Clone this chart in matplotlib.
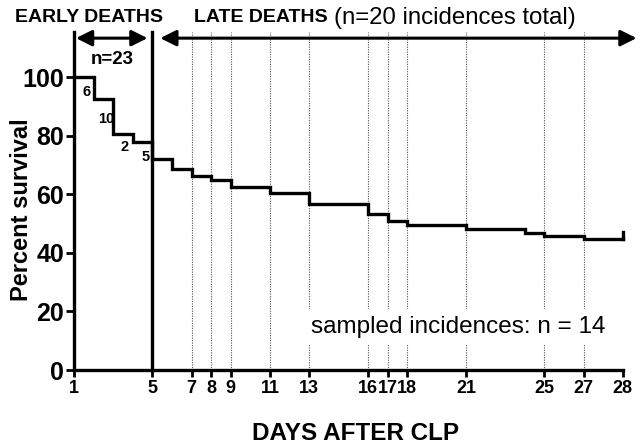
"""Kaplan-Meier style survival after CLP, early vs late deaths."""
import matplotlib
matplotlib.use("Agg")
import matplotlib.pyplot as plt

plt.rcParams["font.family"] = ["Liberation Sans", "DejaVu Sans"]

# step curve (post steps)
days = [1, 2, 3, 4, 5, 6, 7, 8, 9, 11, 13, 16, 17, 18, 21, 24, 25, 27, 29]
surv = [100, 92.5, 80.5, 78, 72, 68.6, 66.3, 64.8, 62.6, 60.3, 56.8, 53.2,
        50.8, 49.5, 48.1, 46.9, 45.8, 44.6, 44.6]
censor_top = 47.2

# day marks with dotted guides
guide_days = [7, 8, 9, 11, 13, 16, 17, 18, 21, 25, 27]
tick_pos = [1, 5, 7, 8, 9, 11, 13, 16, 17, 18, 21, 25, 27, 29]
tick_lab = ["1", "5", "7", "8", "9", "11", "13", "16", "17", "18", "21", "25", "27", "28"]
yticks = [0, 20, 40, 60, 80, 100]

# early death counts at each drop
early_counts = ["6", "10", "2", "5"]
early_xy = [(1.62, 95.0), (2.63, 85.7), (3.6, 76.3), (4.66, 72.8)]

W, H = 641, 447
fig = plt.figure(figsize=(W / 100, H / 100), dpi=100)
ax = fig.add_axes([74 / W, 1 - 370 / H, (638.5 - 74) / W, (370 - 32) / H])
ax.set_xlim(1, 29.8)
ax.set_ylim(0, 115.4)

for d in guide_days:
    ax.plot([d, d], [0, 115.4], color="#555555", lw=0.8, ls=(0, (1, 1.2)),
            zorder=1, clip_on=False)

ax.step(days, surv, where="post", color="black", lw=2.4, zorder=3,
        solid_joinstyle="miter")
ax.plot([days[-1], days[-1]], [surv[-1], censor_top], color="black", lw=2.4, zorder=3)
ax.plot([5, 5], [0, 115.4], color="black", lw=2.4, zorder=4, clip_on=False)

for s, (x, y) in zip(early_counts, early_xy):
    ax.text(x, y, s, ha="center", va="center", fontsize=10.5, fontweight="bold")
ax.text(2.95, 106, "n=23", ha="center", va="center", fontsize=13.5, fontweight="bold")

arrow = dict(arrowstyle="<|-|>", mutation_scale=24, lw=2.2, color="black",
             shrinkA=0, shrinkB=0)
ax.annotate("", xy=(1.1, 113.3), xytext=(4.75, 113.3), arrowprops=arrow,
            annotation_clip=False)
ax.annotate("", xy=(5.4, 113.3), xytext=(29.7, 113.3), arrowprops=arrow,
            annotation_clip=False)

ax.text(20.6, 14.6, "sampled incidences: n = 14", ha="center", va="center",
        fontsize=17.5, bbox=dict(fc="white", ec="none", pad=5), zorder=5)

for side in ["top", "right"]:
    ax.spines[side].set_visible(False)
for side in ["left", "bottom"]:
    ax.spines[side].set_linewidth(2.4)
ax.spines["bottom"].set_bounds(1, 29)

ax.set_xticks(tick_pos, tick_lab)
ax.set_yticks(yticks)
ax.tick_params(axis="x", length=5, width=2, pad=2, labelsize=13)
ax.tick_params(axis="y", length=6, width=2, pad=1, labelsize=18)
for lab in ax.get_xticklabels() + ax.get_yticklabels():
    lab.set_fontweight("bold")

fig.text(89 / W, 1 - 18 / H, "EARLY DEATHS", ha="center", va="center",
         fontsize=14, fontweight="bold")
fig.text(194 / W, 1 - 18 / H, "LATE DEATHS", ha="left", va="center",
         fontsize=14, fontweight="bold")
fig.text(334 / W, 1 - 18 / H, "(n=20 incidences total)", ha="left", va="center",
         fontsize=17.3)
fig.text(22 / W, 1 - 210 / H, "Percent survival", rotation=90, ha="center",
         va="center", fontsize=17, fontweight="bold")
fig.text(356 / W, 1 - 434 / H, "DAYS AFTER CLP", ha="center", va="center",
         fontsize=17.5, fontweight="bold")

fig.savefig("out.png", dpi=100, facecolor="white")
